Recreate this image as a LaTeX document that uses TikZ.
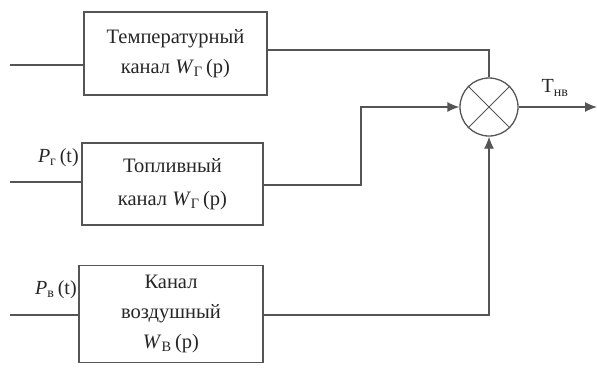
\documentclass[tikz,border=0pt]{standalone}
\usepackage{fontspec}
\setmainfont{Liberation Serif}
\usetikzlibrary{calc}
\usetikzlibrary{arrows.meta}
\usetikzlibrary{positioning}

\definecolor{linegray}{RGB}{85,85,85}
\newcommand{\chan}[1]{\textit{W}\textsubscript{#1}\,(p)}

\begin{document}
\begin{tikzpicture}[x=1pt,y=-1pt,
    line width=1.3pt,draw=linegray,
    >={Latex[length=12pt,width=10pt]},
    blk/.style={draw=linegray,line width=1.3pt,align=center,inner sep=0pt,text=black!85,font=\fontsize{20.5}{30}\selectfont},
    lbl/.style={font=\fontsize{20}{22}\selectfont,inner sep=1pt,text=black!85}]
        \useasboundingbox (0,0) rectangle (597,367);
        % channel blocks
        \node[blk,minimum width=183pt,minimum height=83pt] (temp) at (175.5,53.5) {Температурный\\канал \chan{Г}};
        \node[blk,minimum width=181pt,minimum height=82pt] (fuel) at (172.5,184) {Топливный\\[3pt]канал \chan{Г}};
        \node[blk,minimum width=184pt,minimum height=97pt] (air) at (171,314) {Канал\\воздушный\\\chan{В}};
        % multiplier
        \node[draw=linegray,line width=1.3pt,circle,minimum size=58pt,inner sep=0pt] (mul) at (489,107) {};
        \draw[linegray,line width=1pt] (mul.north east) -- (mul.south west);
        \draw[linegray,line width=1pt] (mul.north west) -- (mul.south east);
        % inputs
        \coordinate (in1) at (10,65);
        \coordinate (in2) at (10,182);
        \coordinate (in3) at (10,315);
        \draw[linegray] (in1) -- (in1 -| temp.west);
        \draw[linegray] (in2) -- (in2 -| fuel.west);
        \draw[linegray] (in3) -- (in3 -| air.west);
        \node[lbl,anchor=north east] (pg) at ([shift={(-1pt,-5pt)}]fuel.north west) {\textit{P}\textsubscript{г}\,(t)};
        \node[lbl,anchor=north east] (pv) at ([shift={(0pt,-14pt)}]air.north west) {\textit{P}\textsubscript{в}\,(t)};
        % connections to the multiplier
        \coordinate (o1) at (267,50);
        \coordinate (o2) at (263,185);
        \coordinate (bend) at (361,185);
        \draw[linegray] (o1 -| temp.east) -- (o1 -| mul.north) -- (mul.north);
        \draw[linegray,->] (o2 -| fuel.east) -- (bend) |- (mul.west);
        \draw[linegray,->] (air.east |- in3) -| (mul.south);
        % output
        \coordinate (out) at (597,107);
        \draw[linegray,->] (mul.east) -- (out);
        \node[lbl] (tnv) at (555,88) {Т\textsubscript{нв}};
\end{tikzpicture}
\end{document}
